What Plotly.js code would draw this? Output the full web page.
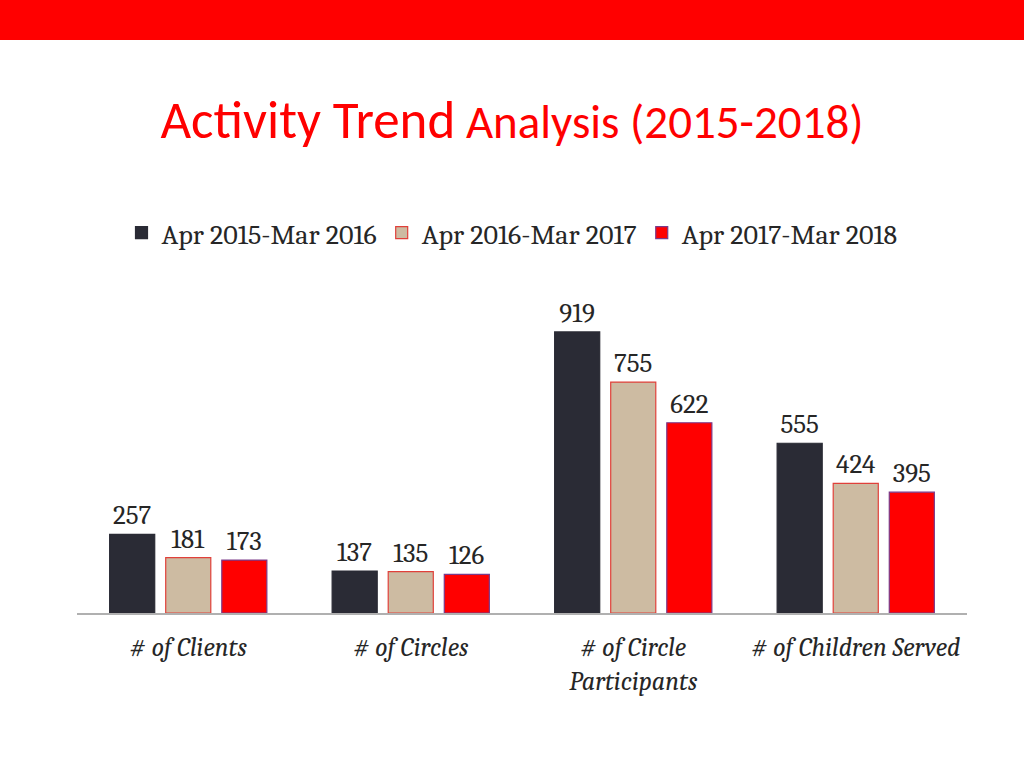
<!DOCTYPE html>
<html>
<head>
<meta charset="utf-8">
<script src="https://cdn.plot.ly/plotly-3.0.1.min.js"></script>
<style>
html,body{margin:0;padding:0;background:#fff;}
#chart{width:1024px;height:768px;}
</style>
</head>
<body>
<div id="chart"></div>
<script>
const categories = ["# of Clients", "# of Circles", "# of Circle<br>Participants", "# of Children Served"];
const seriesNames = ["Apr 2015-Mar 2016", "Apr 2016-Mar 2017", "Apr 2017-Mar 2018"];
const values2015 = [257, 137, 919, 555];
const values2016 = [181, 135, 755, 424];
const values2017 = [173, 126, 622, 395];

const serif = "Cambria, 'Caladea', 'Liberation Serif', 'DejaVu Serif', serif";
const titleFont = "Calibri, Carlito, 'Liberation Sans Narrow', 'DejaVu Sans Condensed', sans-serif";

const fills = ["#2a2b35", "#cdbba2", "#ff0000"];
const outlines = ["#2a2b35", "#e0403a", "#7a3a8a"];
const seriesValues = [values2015, values2016, values2017];

const traces = seriesValues.map((vals, i) => ({
  type: "bar",
  name: seriesNames[i],
  x: categories,
  y: vals,
  text: vals.map(String),
  textposition: "outside",
  cliponaxis: false,
  textfont: {family: serif, size: 27, color: "#262626"},
  marker: {color: fills[i], line: {color: outlines[i], width: 1.2}},
  hoverinfo: "none"
}));

const layout = {
  width: 1024,
  height: 768,
  paper_bgcolor: "#ffffff",
  plot_bgcolor: "#ffffff",
  margin: {l: 77, r: 57, t: 290, b: 155},
  barmode: "group",
  bargap: 0.244,
  bargroupgap: 0.196,
  showlegend: true,
  title: {
    text: "<span style='font-size:53px'>Activity Trend</span> Analysis (2015-2018)",
    font: {family: titleFont, size: 47, color: "#ff0000"},
    x: 0.5, xref: "container", xanchor: "center",
    y: 1 - 122 / 768, yref: "container", yanchor: "middle"
  },
  legend: {
    orientation: "h",
    x: 0.5, xanchor: "center", xref: "container",
    y: 1 - 233 / 768, yref: "container", yanchor: "middle",
    font: {family: serif, size: 28, color: "#262626"},
    itemwidth: 30,
    traceorder: "normal"
  },
  xaxis: {
    type: "category",
    showline: true,
    linecolor: "#b0b0b0",
    linewidth: 1.5,
    showgrid: false,
    ticks: "",
    tickfont: {family: serif, size: 26, color: "#262626", style: "italic"},
    ticklabelstandoff: 10,
    fixedrange: true
  },
  yaxis: {
    range: [0, 1056],
    visible: false,
    showgrid: false,
    zeroline: false,
    fixedrange: true
  },
  shapes: [{
    type: "rect", xref: "paper", yref: "paper",
    x0: -0.2, x1: 1.2,
    y0: (613 - 40) / 323, y1: 613 / 323 + 0.2,
    fillcolor: "#ff0000", line: {width: 0}, layer: "above"
  }]
};

Plotly.newPlot("chart", traces, layout, {displayModeBar: false, staticPlot: true});
</script>
</body>
</html>
